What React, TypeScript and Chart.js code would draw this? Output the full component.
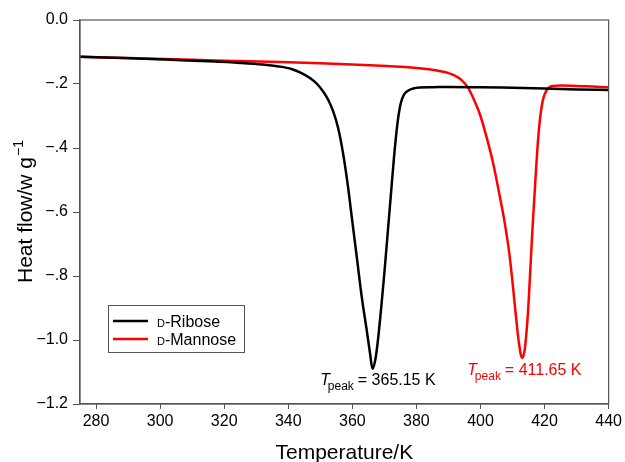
import React, { useEffect, useRef } from "react";
import { Chart, registerables } from "chart.js";

Chart.register(...registerables);

const RIBOSE_T = [275, 285, 295, 305, 315, 325, 332, 337, 341, 344, 347, 349, 351, 352.5, 354, 355.5, 357, 358.5, 360, 361.5, 363, 364.5, 365.5, 366.3, 367.2, 368, 369, 370, 371, 372, 373, 374, 375, 376, 377.5, 379, 381, 385, 390, 400, 410, 420, 430, 440];
const RIBOSE_HF = [-0.115, -0.118, -0.121, -0.125, -0.129, -0.134, -0.139, -0.145, -0.153, -0.165, -0.183, -0.200, -0.225, -0.25, -0.285, -0.335, -0.41, -0.51, -0.63, -0.75, -0.87, -0.97, -1.04, -1.09, -1.06, -1.0, -0.90, -0.79, -0.67, -0.55, -0.43, -0.33, -0.265, -0.235, -0.220, -0.214, -0.211, -0.210, -0.209, -0.210, -0.212, -0.214, -0.217, -0.219];

const MANNOSE_T = [275, 290, 305, 320, 337.5, 350, 360, 369, 375, 380, 384.4, 388, 390, 392, 394, 396, 398, 400, 402, 404, 406, 407.5, 409, 410, 411, 412, 413, 413.8, 414.8, 415.5, 416.2, 417.2, 418, 418.8, 419.6, 420.5, 421.5, 422.5, 425, 430, 435, 440];
const MANNOSE_HF = [-0.115, -0.119, -0.123, -0.127, -0.131, -0.135, -0.139, -0.143, -0.146, -0.150, -0.155, -0.161, -0.166, -0.174, -0.187, -0.21, -0.25, -0.30, -0.37, -0.45, -0.55, -0.63, -0.73, -0.82, -0.92, -1.01, -1.056, -1.03, -0.917, -0.79, -0.656, -0.49, -0.37, -0.29, -0.245, -0.222, -0.210, -0.206, -0.205, -0.206, -0.208, -0.210];

const X_TICKS = [280, 300, 320, 340, 360, 380, 400, 420, 440];
const Y_TICKS = [0, -0.2, -0.4, -0.6, -0.8, -1.0, -1.2];
const Y_TICK_LABELS = ["0.0", "\u2212.2", "\u2212.4", "\u2212.6", "\u2212.8", "\u22121.0", "\u22121.2"];

const SERIES_NAMES = ["Ribose", "Mannose"];
const SERIES_COLORS = ["#000000", "#ff0000"];

// annotation anchors in data units (temperature, heat flow)
const ANNOT_TEXT = ["= 365.15 K", "= 411.65 K"];
const ANNOT_X = [350, 395.9];
const ANNOT_Y = [-1.1406, -1.109];

const FONT = "'Liberation Sans', Arial, Helvetica, sans-serif";

const overlayPlugin = {
  id: "overlay",
  afterDraw(chart: any) {
    const ctx = chart.ctx;
    const ca = chart.chartArea;
    const xs = chart.scales.x;
    const ys = chart.scales.y;
    ctx.save();
    // frame
    ctx.strokeStyle = "#555";
    ctx.lineWidth = 1.2;
    ctx.strokeRect(ca.left, ca.top, ca.right - ca.left, ca.bottom - ca.top);

    // axis titles
    ctx.fillStyle = "#000";
    ctx.textBaseline = "alphabetic";
    ctx.font = `21px ${FONT}`;
    ctx.textAlign = "center";
    ctx.fillText("Temperature/K", (ca.left + ca.right) / 2, 459);

    ctx.save();
    ctx.translate(32, (ca.top + ca.bottom) / 2);
    ctx.rotate(-Math.PI / 2);
    ctx.textAlign = "left";
    const main = "Heat flow/w g";
    ctx.font = `21px ${FONT}`;
    const wMain = ctx.measureText(main).width;
    ctx.font = `14px ${FONT}`;
    const wSup = ctx.measureText("\u22121").width;
    const start = -(wMain + wSup) / 2;
    ctx.font = `21px ${FONT}`;
    ctx.fillText(main, start, 0);
    ctx.font = `14px ${FONT}`;
    ctx.fillText("\u22121", start + wMain + 1, -9);
    ctx.restore();

    // legend
    const lx = 108.5, ly = 305.5, lw = 136, lh = 47;
    ctx.fillStyle = "#fff";
    ctx.fillRect(lx, ly, lw, lh);
    ctx.strokeStyle = "#555";
    ctx.lineWidth = 1;
    ctx.strokeRect(lx, ly, lw, lh);
    SERIES_NAMES.forEach((name, i) => {
      const y = 321 + i * 18;
      ctx.strokeStyle = SERIES_COLORS[i];
      ctx.lineWidth = 2.5;
      ctx.beginPath();
      ctx.moveTo(113, y);
      ctx.lineTo(148, y);
      ctx.stroke();
      ctx.fillStyle = "#000";
      ctx.textAlign = "left";
      ctx.font = `11px ${FONT}`;
      ctx.fillText("D", 157, y + 5.5);
      const wd = ctx.measureText("D").width;
      ctx.font = `16px ${FONT}`;
      ctx.fillText("-" + name, 157 + wd, y + 5.5);
    });

    // peak annotations
    ANNOT_TEXT.forEach((txt, i) => {
      const px = xs.getPixelForValue(ANNOT_X[i]);
      const py = ys.getPixelForValue(ANNOT_Y[i]);
      ctx.fillStyle = SERIES_COLORS[i];
      ctx.textAlign = "left";
      ctx.font = `italic 16px ${FONT}`;
      ctx.fillText("T", px, py);
      ctx.font = `12px ${FONT}`;
      ctx.fillText("peak", px + 7.5, py + 5);
      ctx.font = `16px ${FONT}`;
      ctx.fillText(txt, px + 37.5, py);
    });
    ctx.restore();
  },
};

export default function App() {
  const ref = useRef<HTMLCanvasElement | null>(null);
  useEffect(() => {
    document.body.style.margin = "0";
    const canvas = ref.current;
    if (!canvas) return;
    const chart = new Chart(canvas, {
      type: "line",
      data: {
        datasets: [
          {
            label: "D-Ribose",
            data: RIBOSE_T.map((t, i) => ({ x: t, y: RIBOSE_HF[i] })),
            borderColor: SERIES_COLORS[0],
            borderWidth: 2.5,
            pointRadius: 0,
            cubicInterpolationMode: "monotone",
            fill: false,
          },
          {
            label: "D-Mannose",
            data: MANNOSE_T.map((t, i) => ({ x: t, y: MANNOSE_HF[i] })),
            borderColor: SERIES_COLORS[1],
            borderWidth: 2.5,
            pointRadius: 0,
            cubicInterpolationMode: "monotone",
            fill: false,
          },
        ],
      },
      options: {
        animation: false,
        responsive: false,
        maintainAspectRatio: false,
        layout: { padding: { left: 0, right: 15, top: 20, bottom: 0 } },
        plugins: { legend: { display: false }, tooltip: { enabled: false } },
        scales: {
          x: {
            type: "linear",
            min: 275,
            max: 440,
            afterBuildTicks: (s: any) => {
              s.ticks = X_TICKS.map((v) => ({ value: v }));
            },
            afterFit: (s: any) => {
              s.height = 58;
            },
            grid: { display: true, drawOnChartArea: false, drawTicks: true, tickLength: 5, color: "#555" },
            border: { display: true, color: "#555", width: 1.2 },
            ticks: {
              color: "#000",
              font: { family: FONT, size: 16 },
              padding: 3,
              maxRotation: 0,
              callback: (v: any) => String(v),
            },
          },
          y: {
            type: "linear",
            min: -1.2,
            max: 0,
            afterBuildTicks: (s: any) => {
              s.ticks = Y_TICKS.map((v) => ({ value: v }));
            },
            afterFit: (s: any) => {
              s.width = 80;
            },
            grid: { display: true, drawOnChartArea: false, drawTicks: true, tickLength: 7, color: "#555" },
            border: { display: true, color: "#555", width: 1.2 },
            ticks: {
              color: "#000",
              font: { family: FONT, size: 16 },
              padding: 5,
              callback: (v: any) => {
                const idx = Y_TICKS.findIndex((t) => Math.abs(t - v) < 1e-6);
                return idx >= 0 ? Y_TICK_LABELS[idx] : "";
              },
            },
          },
        },
      },
      plugins: [overlayPlugin],
    });
    return () => chart.destroy();
  }, []);
  return (
    <div style={{ width: 625, height: 462, background: "#fff" }}>
      <canvas ref={ref} width={625} height={462} style={{ display: "block" }} />
    </div>
  );
}
